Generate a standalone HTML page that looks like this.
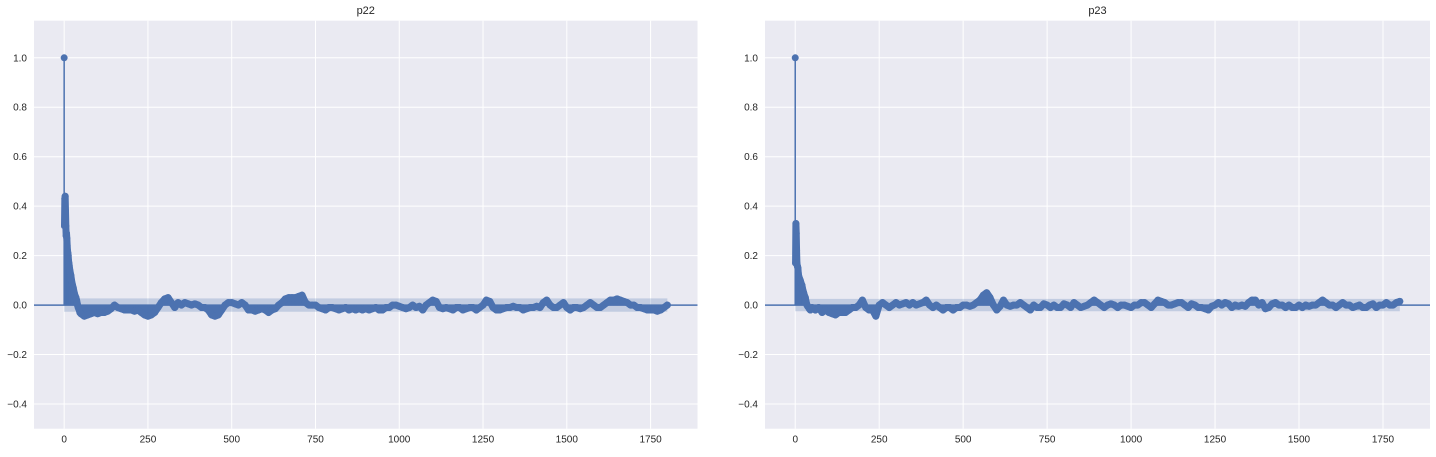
<!DOCTYPE html>
<html><head><meta charset="utf-8"><style>
body{margin:0;background:#fff;width:1436px;height:452px;overflow:hidden;font-family:"Liberation Sans",sans-serif}
svg text{font-family:"Liberation Sans",sans-serif;fill:#262626}
</style></head><body>
<svg id="chart" width="1436" height="452" xmlns="http://www.w3.org/2000/svg"></svg>
<script>
const earlyLagsL=[0,1,2,3,4,5,6,7,8,9,10,11,12,13,14,15,17,20,22,25,27,30,32,35,37,40,42,45,47];
const earlyValsL=[1.0,0.32,0.43,0.44,0.38,0.32,0.28,0.29,0.27,0.24,0.22,0.21,0.2,0.18,0.17,0.16,0.14,0.12,0.1,0.08,0.07,0.05,0.04,0.03,0.02,0.0,-0.01,-0.02,-0.03];
const tailL=[-3.5,-4.5,-4,-3.5,-3,-3.5,-3,-3,-2.5,-1.5,
0,-1,-1.5,-2,-2,-2,-2.5,-2,-3,-4,
-4.5,-4,-3,-1,1,2.5,3,1,-1,1,
0,1,0.5,0,0.5,0,-1,-1,-2,-4,
-4.5,-4,-2,0,1,1,0.5,0,1,0,
-2,-2,-2.5,-2,-1.5,-2,-3,-2,-1.5,0,
1,2.5,3,3,3,3.5,4,1,0,0,
0,-1,-1.5,-2,-1,-1,-1.5,-2,-1.5,-1,
-2,-1.5,-2,-1.5,-2,-1.5,-2,-1.5,-1,-2,
-2,-1,-1,0,0,-0.5,-1,-1.5,-1,0,
-1,-0.5,-2,0,1,2,1.5,-1,-1.5,-1,
-1.5,-2,-1,-1,-2,-1.5,-1,-1,-2,-1,
0,2,1.5,-1,-2,-2,-1.5,-1,-1,-0.5,
-1,-1,-2,-1.5,-1,-1,-0.5,-1,1,2,
0,-1,-1,0,1,-1,-2,-1,-1,-1.5,
-1,0,1,0,-1,-1,0,1,2,2,
2.5,2,1.5,1,0,0,-1,-1,-1.5,-2,
-2,-2,-2.5,-2,-1,0];
const earlyLagsR=[0,1,2,3,4,5,6,7,8,9,10,12,15,17,20,22,25,27,30,32,35,37,40,42,45,47];
const earlyValsR=[1.0,0.17,0.33,0.29,0.22,0.17,0.16,0.155,0.15,0.13,0.12,0.11,0.1,0.09,0.08,0.065,0.05,0.04,0.03,0.015,0.0,-0.005,-0.01,-0.015,-0.02,-0.015];
const tailR=[-1,-2,-1,-3,-2,-3,-3.5,-4,-3,-3,
-3,-2,-1,-1,0,2,-1,-2,-2,-4.5,
0,1,0,-1,0,1,0,0.5,1,0,
1,0,0.5,1,2,0,-1,0,-1,-2,
-1,-1,-2,-1,-1,0,0,-0.5,0,1,
2,4,5,3,0,-2,-0.5,2,0,-0.5,
0,0,1,0,-1,-2,0,-1,-1,0.5,
0,-1,0,-1,-1,0.5,0,-1,1,0,
-1,-0.5,0,1,2,1,0,-1,0,0.5,
0,-1,0,0,-0.5,-1,0,0,1,1,
0,-1,0.5,2,1.5,1,0,0,0.5,1,
1,0,-1,0.5,0,-1,-1,-1.5,-2,-0.5,
0,1,0,1,0.5,-1,0,-0.5,0,-0.5,
1,2,2,0,1,-1.5,-1,0.5,1,0,
0,-1,0,-1,-1,0,-1,0,-0.5,0,
0,1,2,1,0,0,-1,0,1,0,
0,-1,-0.5,0,-1,-1,0,0.5,-1,0,
0,1,0,0,1,1.5];
const yTicks=[-0.4,-0.2,0.0,0.2,0.4,0.6,0.8,1.0];
const xTicks=[0,250,500,750,1000,1250,1500,1750];
const titles=["p22","p23"];
const confL=0.027, confR=0.025;

const NS="http://www.w3.org/2000/svg";
const svg=document.getElementById('chart');
const C="#4C72B0";
function mk(tag,attrs,parent){const e=document.createElementNS(NS,tag);for(const k in attrs)e.setAttribute(k,attrs[k]);parent.appendChild(e);return e;}

function panel(left,right,title,eLags,eVals,tail,conf,key){
  const top=20.7,bottom=428.7;
  const x=v=>left+(v+90)/(1980)*(right-left);
  const y=v=>bottom-(v+0.5)/1.65*(bottom-top);
  const g=mk('g',{},svg);
  
  
  const bg=mk('rect',{x:left,y:top,width:right-left,height:bottom-top,fill:'#EAEAF2'},g);
  
  
  yTicks.forEach(t=>{
    mk('line',{x1:left,x2:right,y1:y(t),y2:y(t),stroke:'#fff','stroke-width':1},g);
    const tx=mk('text',{x:left-7,y:y(t)+3.5,'text-anchor':'end','font-size':10},g);
    tx.textContent=t.toFixed(1).replace('-','\u2212');
    
    
  });
  xTicks.forEach(t=>{
    mk('line',{x1:x(t),x2:x(t),y1:top,y2:bottom,stroke:'#fff','stroke-width':1},g);
    const tx=mk('text',{x:x(t),y:bottom+14,'text-anchor':'middle','font-size':10},g);
    tx.textContent=t;
    
    
  });
  const band=mk('rect',{x:x(0),y:y(conf),width:x(1800)-x(0),height:y(-conf)-y(conf),fill:C,'fill-opacity':0.25},g);
  
  
  const zl=mk('line',{x1:left,x2:right,y1:y(0),y2:y(0),stroke:C,'stroke-width':1.5},g);
  
  
  const lags=eLags.slice(),vals=eVals.slice();
  tail.forEach((v,i)=>{lags.push(50+i*10);vals.push(v/100);});
  // filled area between zero and values (dense stems)
  let ad='M'+x(lags[1])+','+y(0);
  for(let i=1;i<lags.length;i++) ad+=' L'+x(lags[i])+','+y(vals[i]);
  ad+=' L'+x(lags[lags.length-1])+','+y(0)+' Z';
  const area=mk('path',{d:ad,fill:C},g);
  
  
  lags.forEach((l,i)=>{
    const s=mk('line',{x1:x(l),x2:x(l),y1:y(0),y2:y(vals[i]),stroke:C,'stroke-width':1.5},g);
    
    
  });
  let pd='';
  for(let i=1;i<lags.length;i++) pd+=(i===1?'M':' L')+x(lags[i])+','+y(vals[i]);
  const trail=mk('path',{d:pd,fill:'none',stroke:C,'stroke-width':7,'stroke-linejoin':'round','stroke-linecap':'round'},g);
  
  
  lags.forEach((l,i)=>{
    const c=mk('circle',{cx:x(l),cy:y(vals[i]),r:3.5,fill:C},g);
    
    
  });
  const tt=mk('text',{x:(left+right)/2,y:14,'text-anchor':'middle','font-size':11},g);
  tt.textContent=title;
  
  
}
panel(34,697.5,titles[0],earlyLagsL,earlyValsL,tailL,confL,'p22');
panel(765,1430,titles[1],earlyLagsR,earlyValsR,tailR,confR,'p23');
</script>
</body></html>
